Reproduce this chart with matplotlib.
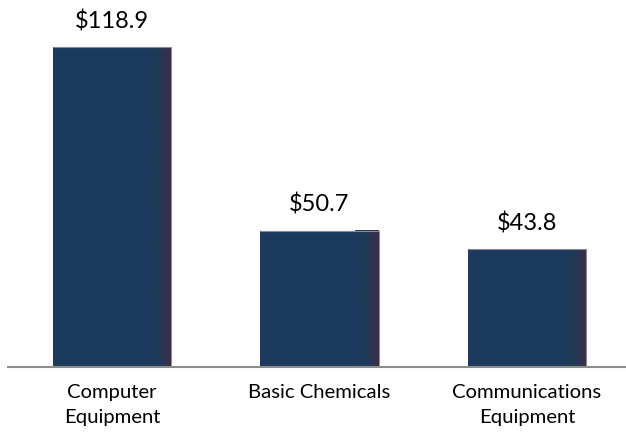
import matplotlib.pyplot as plt
import matplotlib.colors as mcolors
import numpy as np

# data
categories = ['Computer\nEquipment', 'Basic Chemicals', 'Communications\nEquipment']
values = [118.9, 50.7, 43.8]
labels = ['$118.9', '$50.7', '$43.8']

plt.rcParams['font.family'] = ['Lato', 'DejaVu Sans']

fig = plt.figure(figsize=(6.26, 4.32), dpi=100)
ax = fig.add_axes([8 / 626, 65 / 432, 618 / 626, 367 / 432])

x = np.arange(len(values))
width = 0.569
bars = ax.bar(x, values, width=width, color='#1b3a5e', edgecolor='none', zorder=2)

# darker shading on the right side of each bar
cmap = mcolors.LinearSegmentedColormap.from_list('shade', ['#1b3a5e', '#1f3a58', '#3e2c48'])
grad = np.linspace(0, 1, 64).reshape(1, -1)
for b in bars:
    x0 = b.get_x() + b.get_width() * 0.80
    x1 = b.get_x() + b.get_width()
    ax.imshow(grad, cmap=cmap, aspect='auto', extent=(x0, x1, 0, b.get_height()),
              zorder=3, interpolation='bilinear')
    ax.plot([b.get_x(), x1, x1], [b.get_height(), b.get_height(), 0],
            color='#8a8a96', lw=0.8, zorder=4, solid_capstyle='butt')

for xi, v, lab in zip(x, values, labels):
    ax.text(xi, v + 5.5, lab, ha='center', va='bottom', fontsize=17, color='black')

ax.set_xlim(-0.501, 2.477)
ax.set_ylim(0, 136.4)
ax.set_xticks(x)
ax.set_xticklabels(categories, fontsize=14.6, linespacing=1.6, va='top')
ax.tick_params(axis='x', length=0, pad=12)
ax.set_yticks([])
for s in ['top', 'right', 'left']:
    ax.spines[s].set_visible(False)
ax.spines['bottom'].set_color('#8c8c8c')
ax.spines['bottom'].set_linewidth(1.5)
ax.spines['bottom'].set_zorder(5)

plt.savefig('out.png', dpi=100)
